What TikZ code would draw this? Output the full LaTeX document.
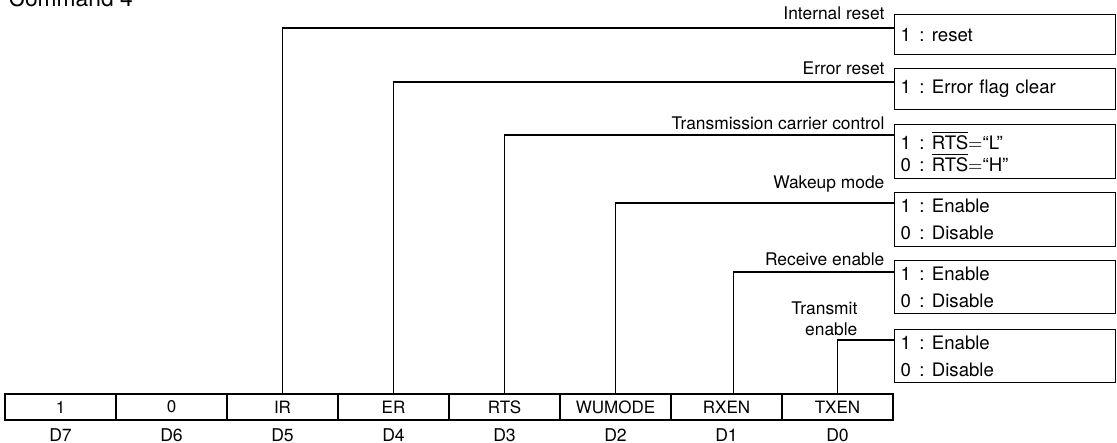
\documentclass[tikz,border=0pt]{standalone}
\usepackage{fontspec}
\setmainfont{TeX Gyre Heros}
\usetikzlibrary{positioning}
\newcommand{\setto}[2]{#1\hspace{.45em}:\hspace{.4em}#2}
\newcommand{\nrts}{$\overline{\mbox{RTS}}$}

\begin{document}
\begin{tikzpicture}[
		x={(0.5pt,0pt)},
		y={(0pt,-0.5pt)},
		line width=0.6pt,
		bitcell/.style={draw,minimum width=55.5pt,minimum height=13pt,inner sep=0pt,font=\fontsize{8.5}{10}\selectfont},
		valbox/.style={draw,anchor=north west,text width=104.5pt,inner xsep=3pt,inner ysep=0pt,align=left,font=\fontsize{9.3}{11}\selectfont},
		field/.style={inner sep=0pt,font=\fontsize{8.7}{10.5}\selectfont},
	]
		\useasboundingbox (0,0) rectangle (1117,443);
		\node[anchor=base west,inner sep=0pt,font=\fontsize{11.4}{13}\selectfont] (title) at (8,7) {Command 4};

		% register bits D7 ... D0
		\foreach \n/\t/\c in {7/1/b7, 6/0/b6, 5/IR/ir, 4/ER/er, 3/RTS/rts, 2/WUMODE/wumode, 1/RXEN/rxen, 0/TXEN/txen}{
			\node[bitcell] (\c) at ({60.5+(7-\n)*111},407) {\t};
			\node[below=0.5pt of \c,font=\fontsize{8.8}{10}\selectfont] (d\n) {D\n};
		}

		% meaning of each bit
		\node[valbox,minimum height=20pt] (rst) at (894,14) {\setto{1}{reset}};
		\node[valbox,minimum height=20.5pt] (errclr) at (894,68) {\setto{1}{Error flag clear}};
		\node[valbox,minimum height=27pt] (rtsctl) at (894,124) {\setto{1}{\nrts$=$“L”}\\ \setto{0}{\nrts$=$“H”}};
		\node[valbox,minimum height=27pt] (wake) at (894,192) {\setto{1}{Enable}\\[2.5pt] \setto{0}{Disable}};
		\node[valbox,minimum height=26.5pt] (rxon) at (894,260) {\setto{1}{Enable}\\[2.5pt] \setto{0}{Disable}};
		\node[valbox,minimum height=26.5pt] (txon) at (894,329) {\setto{1}{Enable}\\[2.5pt] \setto{0}{Disable}};

		\node[field,anchor=base east] (lir) at (885,20) {Internal reset};
		\node[field,anchor=base east] (ler) at (885,75) {Error reset};
		\node[field,anchor=base east] (lrts) at (885,130) {Transmission carrier control};
		\node[field,anchor=base east] (lwu) at (885,189) {Wakeup mode};
		\node[field,anchor=base east] (lrx) at (885,265) {Receive enable};
		\node[field,anchor=south east,align=right] (ltx) at (858,336) {Transmit\\enable};

		\draw (ir.north) |- ([yshift=-7pt]rst.north west);
		\draw (er.north) |- ([yshift=-7pt]errclr.north west);
		\draw (rts.north) |- ([yshift=-5.5pt]rtsctl.north west);
		\draw (wumode.north) |- ([yshift=-5.5pt]wake.north west);
		\draw ([xshift=3.5pt]rxen.north) |- ([yshift=-6pt]rxon.north west);
		\draw (txen.north) |- ([yshift=-5.5pt]txon.north west);
	\end{tikzpicture}
\end{document}
